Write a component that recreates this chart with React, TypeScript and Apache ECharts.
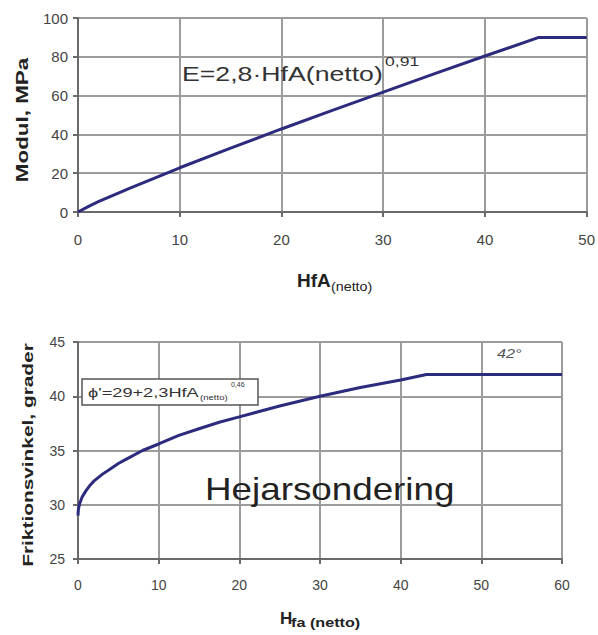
import React, { useEffect, useRef } from "react";
import * as echarts from "echarts";

// Top chart: E-modulus vs HfA(netto)
const topX = [0, 1, 2, 5, 10, 15, 20, 25, 30, 35, 40, 45.3, 50];
const topY = [0, 2.8, 5.3, 12.1, 22.8, 32.9, 42.8, 52.4, 61.8, 71.2, 80.4, 90, 90];
const topXTicks = [0, 10, 20, 30, 40, 50];
const topYTicks = [0, 20, 40, 60, 80, 100];

// Bottom chart: friction angle vs Hfa(netto)
const botX = [0, 0.05, 0.2, 0.5, 1, 1.5, 2, 3, 4, 5, 6, 8, 10, 12.5, 15, 17.5, 20, 25, 30, 35, 40, 43.2, 50, 60];
const botY = [29.0, 29.6, 30.1, 30.7, 31.3, 31.8, 32.2, 32.8, 33.3, 33.8, 34.2, 35.0, 35.6, 36.4, 37.0, 37.6, 38.1, 39.1, 40.0, 40.8, 41.5, 42.0, 42.0, 42.0];
const botXTicks = [0, 10, 20, 30, 40, 50, 60];
const botYTicks = [25, 30, 35, 40, 45];

const LINE = "#2d2b7d";
const GRID = "#9c9c9c";
const AXIS = "#6a6a6a";
const LBL = "#444";
const FONT = "'Liberation Sans', Arial, sans-serif";

function makeAxis(gridIndex: number, ticks: number[], fontSize: number, margin: number) {
  return {
    type: "value",
    gridIndex,
    min: ticks[0],
    max: ticks[ticks.length - 1],
    interval: ticks[1] - ticks[0],
    axisLine: { show: true, lineStyle: { color: AXIS, width: 2 } },
    axisTick: { show: true, length: 5, lineStyle: { color: AXIS, width: 2 } },
    splitLine: { show: true, lineStyle: { color: GRID, width: 2 } },
    axisLabel: { fontSize, color: LBL, margin, fontFamily: FONT },
  };
}

export default function App() {
  const ref = useRef<HTMLDivElement>(null);
  useEffect(() => {
    if (!ref.current) return;
    const chart = echarts.init(ref.current, undefined, { renderer: "svg" });
    const txt = (text: string, x: number, y: number, font: string, opts: any = {}) => ({
      type: "text",
      x,
      y,
      scaleX: opts.scaleX ?? 1,
      rotation: opts.rotation ?? 0,
      z: 100,
      style: {
        text,
        font,
        fill: opts.fill ?? "#2a2a2a",
        align: opts.align ?? "left",
        verticalAlign: "middle",
      },
    });
    const option: any = {
      animation: false,
      grid: [
        { left: 78, top: 18, width: 510, height: 194 },
        { left: 78, top: 342, width: 484, height: 217 },
      ],
      xAxis: [makeAxis(0, topXTicks, 15, 20), makeAxis(1, botXTicks, 14, 19)],
      yAxis: [makeAxis(0, topYTicks, 15, 10), makeAxis(1, botYTicks, 14, 13)],
      series: [
        {
          type: "line",
          xAxisIndex: 0,
          yAxisIndex: 0,
          z: 5,
          data: topX.map((x, i) => [x, topY[i]]),
          showSymbol: false,
          lineStyle: { color: LINE, width: 3 },
        },
        {
          type: "line",
          xAxisIndex: 1,
          yAxisIndex: 1,
          z: 5,
          data: botX.map((x, i) => [x, botY[i]]),
          showSymbol: false,
          lineStyle: { color: LINE, width: 3 },
        },
      ],
      graphic: [
        txt("E=2,8·HfA(netto)", 182, 74, `21px ${FONT}`, { scaleX: 1.27, fill: "#333" }),
        txt("0,91", 385, 61, `13px ${FONT}`, { scaleX: 1.35, fill: "#333" }),
        txt("HfA", 297, 280, `bold 19px ${FONT}`, { fill: "#222" }),
        txt("(netto)", 331, 287, `13px ${FONT}`, { scaleX: 1.1, fill: "#222" }),
        txt("Modul, MPa", 22, 120, `bold 16px ${FONT}`, {
          rotation: Math.PI / 2,
          align: "center",
          scaleX: 1.4,
          fill: "#222",
        }),
        {
          type: "rect",
          shape: { x: 82, y: 379, width: 176, height: 26 },
          z: 99,
          style: { fill: "#ffffff", stroke: "#555", lineWidth: 1.5 },
        },
        txt("ϕ'=29+2,3HfA", 88, 392, `13px ${FONT}`, { scaleX: 1.4, fill: "#333" }),
        txt("(netto)", 200, 397, `8px ${FONT}`, { scaleX: 1.2, fill: "#333" }),
        txt("0,46", 231, 384, `7px ${FONT}`, { fill: "#333" }),
        txt("Hejarsondering", 205, 489, `32px ${FONT}`, { scaleX: 1.15, fill: "#222" }),
        txt("42°", 497, 354, `italic 13px ${FONT}`, { scaleX: 1.25, fill: "#555" }),
        txt("H", 280, 618, `bold 17px ${FONT}`, { fill: "#222" }),
        txt("fa (netto)", 291, 623, `bold 12px ${FONT}`, { scaleX: 1.35, fill: "#222" }),
        txt("Friktionsvinkel, grader", 28, 455, `bold 15px ${FONT}`, {
          rotation: Math.PI / 2,
          align: "center",
          scaleX: 1.39,
          fill: "#222",
        }),
      ],
    };
    chart.setOption(option);
    return () => chart.dispose();
  }, []);
  return (
    <div ref={ref} style={{ position: "absolute", left: 0, top: 0, width: 598, height: 635, background: "#fff" }} />
  );
}
